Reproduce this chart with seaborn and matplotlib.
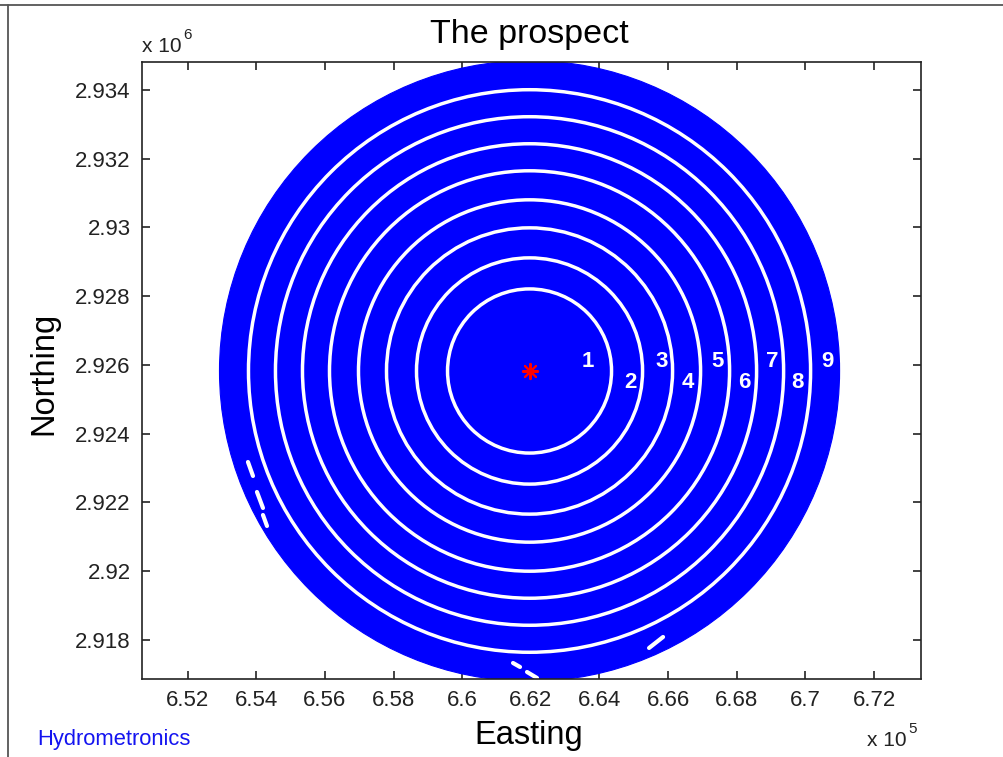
import numpy as np
import pandas as pd
import matplotlib
matplotlib.use("Agg")
import matplotlib.pyplot as plt
from matplotlib.patches import Circle
from matplotlib.lines import Line2D
import seaborn as sns

# ---------------- data ----------------
center_x = [661963.0]
center_y = [2925820.0]
outer_radius = 9033.0
ring_radii = [2389, 3293, 4167, 4983, 5828, 6615, 7402, 8188]
ring_labels = ["1", "2", "3", "4", "5", "6", "7", "8", "9"]
label_x = [663668, 664892, 665824, 666582, 667427, 668213, 669029, 669758, 670632]
label_y = [2926082, 2925471, 2926082, 2925471, 2926082, 2925471, 2926082, 2925471, 2926082]
outlier_x = [658277]
outlier_y = [2933825]
gap_x0 = [653760, 654022, 654197, 661482, 661890, 665445]
gap_y0 = [2923171, 2922298, 2921628, 2917320, 2917058, 2917757]
gap_x1 = [653906, 654197, 654314, 661686, 662182, 665853]
gap_y1 = [2922764, 2921832, 2921308, 2917204, 2916883, 2918077]
xticks = [652000, 654000, 656000, 658000, 660000, 662000, 664000, 666000, 668000, 670000, 672000]
xtick_labels = ["6.52", "6.54", "6.56", "6.58", "6.6", "6.62", "6.64", "6.66", "6.68", "6.7", "6.72"]
yticks = [2918000, 2920000, 2922000, 2924000, 2926000, 2928000, 2930000, 2932000, 2934000]
ytick_labels = ["2.918", "2.92", "2.922", "2.924", "2.926", "2.928", "2.93", "2.932", "2.934"]
xlim = (650663, 673361)
ylim = (2916853, 2934806)

# ---------------- style ----------------
sns.set_style("ticks")
plt.rcParams["font.family"] = ["Liberation Sans", "DejaVu Sans"]
plt.rcParams["axes.edgecolor"] = "#222222"
plt.rcParams["axes.linewidth"] = 1.2

fig = plt.figure(figsize=(10.04, 7.57), dpi=100)
ax = fig.add_axes([0.1411, 0.103, 0.776, 0.8147])

BLUE = "#0000FF"

# disk
ax.add_patch(Circle((center_x[0], center_y[0]), outer_radius, facecolor=BLUE,
                    edgecolor=BLUE, lw=0.8, zorder=1))
# white rings
for r in ring_radii:
    ax.add_patch(Circle((center_x[0], center_y[0]), r, facecolor="none",
                        edgecolor="white", lw=2.5, zorder=2))
# small gaps in coverage
for x0, y0, x1, y1 in zip(gap_x0, gap_y0, gap_x1, gap_y1):
    ax.plot([x0, x1], [y0, y1], color="white", lw=3, solid_capstyle="round", zorder=2)

# outlier point
sns.scatterplot(x=outlier_x, y=outlier_y, ax=ax, marker="D", s=22, color=BLUE,
                edgecolor=BLUE, linewidth=0, zorder=3, legend=False)
# centre marker
sns.scatterplot(x=center_x, y=center_y, ax=ax, marker=(8, 2, 0), s=120, color="red",
                edgecolor="red", linewidth=1.5, zorder=4, legend=False)

# ring numbers
for t, x, y in zip(ring_labels, label_x, label_y):
    ax.text(x, y, t, color="white", fontsize=16, fontweight="bold",
            ha="center", va="center", zorder=5)

ax.set_xlim(*xlim)
ax.set_ylim(*ylim)
ax.set_xticks(xticks)
ax.set_xticklabels(xtick_labels)
ax.set_yticks(yticks)
ax.set_yticklabels(ytick_labels)
ax.tick_params(direction="in", length=6, width=1.2, top=True, right=True,
               labelsize=16, colors="#222222", pad=8)
ax.set_xlabel("")
ax.set_ylabel("")

# titles / labels
fig.text(529 / 1004, 1 - 43 / 757, "The prospect", fontsize=24.5, ha="center",
         va="baseline", color="black")
fig.text(529 / 1004, 1 - 744 / 757, "Easting", fontsize=23.5, ha="center",
         va="baseline", color="black")
fig.text(44 / 1004, 1 - 373 / 757, "Northing", fontsize=23.5, ha="center",
         va="center", rotation=90, color="black")
fig.text(37 / 1004, 1 - 745 / 757, "Hydrometronics", fontsize=15.8, ha="left",
         va="baseline", color="#1414F0")

# exponent labels
t6 = fig.text(142 / 1004, 1 - 51.5 / 757, "x 10", fontsize=15, ha="left",
              va="baseline", color="#222222")
ax.annotate("6", xy=(1, 1), xycoords=t6, xytext=(1, -4), textcoords="offset points",
            fontsize=11, ha="left", va="bottom", color="#222222", annotation_clip=False)
t5 = fig.text(867 / 1004, 1 - 745.5 / 757, "x 10", fontsize=15, ha="left",
              va="baseline", color="#222222")
ax.annotate("5", xy=(1, 1), xycoords=t5, xytext=(1, -4), textcoords="offset points",
            fontsize=11, ha="left", va="bottom", color="#222222", annotation_clip=False)

# figure frame (top and left edge)
fig.add_artist(Line2D([0, 1], [1 - 4.5 / 757] * 2, transform=fig.transFigure,
                      color="#555555", lw=1.3))
fig.add_artist(Line2D([8.5 / 1004] * 2, [0, 1 - 4.5 / 757], transform=fig.transFigure,
                      color="#555555", lw=1.3))

fig.savefig("out.png", dpi=100, facecolor="white")
